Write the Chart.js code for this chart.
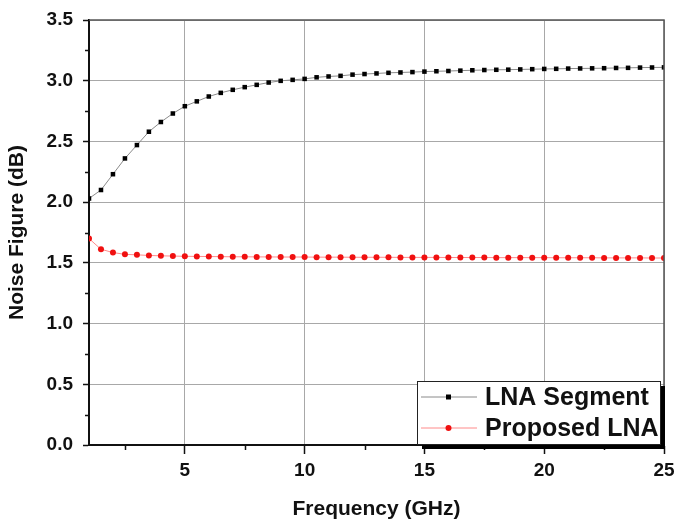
<!DOCTYPE html>
<html>
<head>
<meta charset="utf-8">
<script src="https://cdn.jsdelivr.net/npm/chart.js@4"></script>
<style>
  html, body { margin: 0; padding: 0; background: #fff; }
  #wrap { width: 676px; height: 522px; }
</style>
</head>
<body>
<div id="wrap"><canvas id="nfChart"></canvas></div>
<script>
// frequency sweep, 0.5 GHz steps
const freqs = [1, 1.5, 2, 2.5, 3, 3.5, 4, 4.5, 5, 5.5, 6, 6.5, 7, 7.5, 8, 8.5, 9, 9.5, 10,
  10.5, 11, 11.5, 12, 12.5, 13, 13.5, 14, 14.5, 15, 15.5, 16, 16.5, 17, 17.5, 18, 18.5, 19, 19.5, 20,
  20.5, 21, 21.5, 22, 22.5, 23, 23.5, 24, 24.5, 25];

const lnaSegment = [2.03, 2.10, 2.23, 2.36, 2.47, 2.58, 2.66, 2.73, 2.79, 2.83, 2.87, 2.90, 2.925, 2.947, 2.966, 2.985, 2.999, 3.007, 3.015,
  3.028, 3.035, 3.04, 3.05, 3.055, 3.06, 3.065, 3.068, 3.071, 3.075, 3.078, 3.08, 3.083, 3.086, 3.088, 3.09, 3.091, 3.093, 3.095, 3.097,
  3.098, 3.10, 3.101, 3.102, 3.103, 3.105, 3.106, 3.108, 3.109, 3.11];

const proposedLna = [1.70, 1.612, 1.585, 1.570, 1.566, 1.561, 1.558, 1.556, 1.554, 1.553, 1.552, 1.551, 1.550, 1.550, 1.549, 1.549, 1.548, 1.548, 1.548,
  1.547, 1.547, 1.547, 1.546, 1.546, 1.546, 1.546, 1.545, 1.545, 1.545, 1.545, 1.544, 1.544, 1.544, 1.544, 1.543, 1.543, 1.543, 1.543, 1.543,
  1.542, 1.542, 1.542, 1.542, 1.541, 1.541, 1.541, 1.541, 1.540, 1.540];

const xMajorTicks = [5, 10, 15, 20, 25];
const xMinorTicks = [2.5, 7.5, 12.5, 17.5, 22.5];
const yMinorTicks = [0.25, 0.75, 1.25, 1.75, 2.25, 2.75, 3.25];

const FONT = "'Liberation Sans', Arial, sans-serif";

// frame, minor ticks and the boxed legend with its shadow
const framePlugin = {
  id: 'frame',
  afterDraw(chart) {
    const { ctx, chartArea: a, scales } = chart;
    ctx.save();
    ctx.strokeStyle = '#555';
    ctx.lineWidth = 1.5;
    ctx.beginPath();
    ctx.moveTo(a.left, a.top);
    ctx.lineTo(a.right, a.top);
    ctx.lineTo(a.right, a.bottom);
    ctx.stroke();

    ctx.strokeStyle = '#111';
    ctx.lineWidth = 1.5;
    ctx.beginPath();
    yMinorTicks.forEach(v => {
      const y = Math.round(scales.y.getPixelForValue(v)) + 0.5;
      ctx.moveTo(a.left - 4, y);
      ctx.lineTo(a.left, y);
    });
    xMinorTicks.forEach(v => {
      const x = Math.round(scales.x.getPixelForValue(v)) + 0.5;
      ctx.moveTo(x, a.bottom);
      ctx.lineTo(x, a.bottom + 5);
    });
    ctx.stroke();

    // legend
    const w = 243, h = 63;
    const lx = a.right - w - 4, ly = a.bottom - h - 1;
    ctx.fillStyle = '#000';
    ctx.fillRect(lx + 5, ly + 5, w, h);
    ctx.fillStyle = '#fff';
    ctx.fillRect(lx, ly, w, h);
    ctx.strokeStyle = '#222';
    ctx.lineWidth = 1;
    ctx.strokeRect(lx + 0.5, ly + 0.5, w, h);

    chart.data.datasets.forEach((ds, i) => {
      const cy = ly + 16 + i * 31;
      ctx.strokeStyle = ds.borderColor;
      ctx.lineWidth = 1;
      ctx.beginPath();
      ctx.moveTo(lx + 4, cy);
      ctx.lineTo(lx + 60, cy);
      ctx.stroke();
      ctx.fillStyle = ds.pointBackgroundColor;
      ctx.beginPath();
      if (ds.pointStyle === 'rect') {
        ctx.rect(lx + 29, cy - 2.5, 5, 5);
      } else {
        ctx.arc(lx + 31.5, cy, 3, 0, Math.PI * 2);
      }
      ctx.fill();
      ctx.fillStyle = '#111';
      ctx.font = `bold 25px ${FONT}`;
      ctx.textBaseline = 'middle';
      ctx.textAlign = 'left';
      ctx.fillText(ds.label, lx + 68, cy + 1);
    });
    ctx.restore();
  }
};

const ctx = document.getElementById('nfChart').getContext('2d');

new Chart(ctx, {
  type: 'line',
  data: {
    labels: freqs,
    datasets: [
      {
        label: 'LNA Segment',
        data: freqs.map((f, i) => ({ x: f, y: lnaSegment[i] })),
        borderColor: '#8a8a8a',
        borderWidth: 1,
        pointStyle: 'rect',
        pointRadius: 3.2,
        pointBackgroundColor: '#000',
        pointBorderWidth: 0,
        tension: 0
      },
      {
        label: 'Proposed LNA',
        data: freqs.map((f, i) => ({ x: f, y: proposedLna[i] })),
        borderColor: '#ff8a8a',
        borderWidth: 1,
        pointStyle: 'circle',
        pointRadius: 3,
        pointBackgroundColor: '#f01010',
        pointBorderWidth: 0,
        tension: 0
      }
    ]
  },
  options: {
    responsive: true,
    maintainAspectRatio: false,
    animation: false,
    layout: {
      padding: { top: 20, right: 12, left: 0, bottom: 0 }
    },
    plugins: {
      legend: { display: false },
      tooltip: { enabled: false }
    },
    scales: {
      x: {
        type: 'linear',
        min: 1,
        max: 25,
        afterBuildTicks: (scale) => {
          scale.ticks = xMajorTicks.map(v => ({ value: v }));
        },
        afterFit: (scale) => {
          scale.height = 77;
          scale.paddingLeft = 0;
          scale.paddingRight = 0;
        },
        border: { color: '#111', width: 2 },
        grid: {
          color: '#a8a8a8',
          lineWidth: 1,
          tickLength: 9,
          tickColor: '#111',
          tickWidth: 1.5
        },
        ticks: {
          color: '#111',
          padding: 5,
          maxRotation: 0,
          font: { family: FONT, size: 19, weight: 'bold' }
        },
        title: {
          display: true,
          text: 'Frequency (GHz)',
          color: '#111',
          padding: { top: 0, bottom: 0 },
          font: { family: FONT, size: 21, weight: 'bold' }
        }
      },
      y: {
        min: 0,
        max: 3.5,
        afterFit: (scale) => {
          scale.width = 89;
          scale.paddingTop = 0;
          scale.paddingBottom = 0;
        },
        border: { color: '#111', width: 2 },
        grid: {
          color: '#a8a8a8',
          lineWidth: 1,
          tickLength: 6,
          tickColor: '#111',
          tickWidth: 1.5
        },
        ticks: {
          stepSize: 0.5,
          color: '#111',
          padding: 10,
          callback: (v) => v.toFixed(1),
          font: { family: FONT, size: 19, weight: 'bold' }
        },
        title: {
          display: true,
          text: 'Noise Figure (dB)',
          color: '#111',
          padding: { top: 5, bottom: 0 },
          font: { family: FONT, size: 21, weight: 'bold' }
        }
      }
    }
  },
  plugins: [framePlugin]
});
</script>
</body>
</html>
